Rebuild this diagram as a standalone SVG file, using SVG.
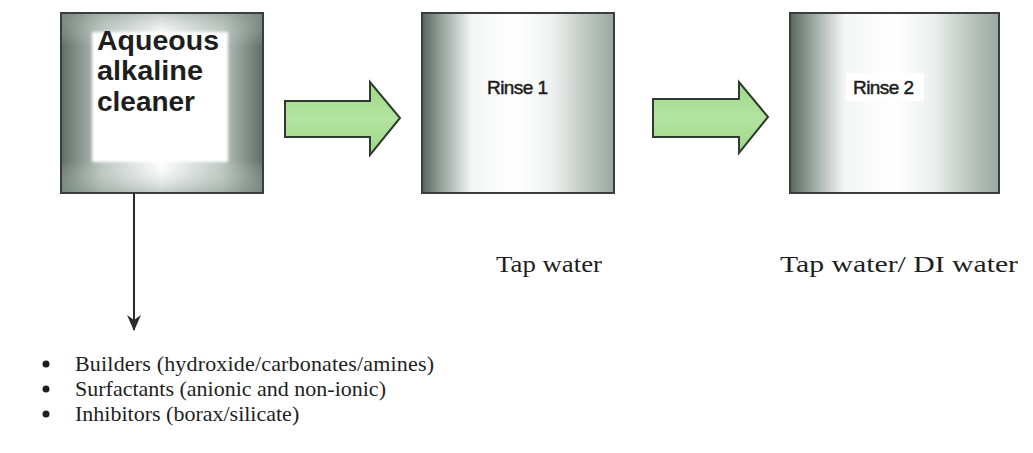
<svg xmlns="http://www.w3.org/2000/svg" width="1033" height="453" viewBox="0 0 1033 453">
  <defs>
    <!-- cleaner tank: dark sides, pale top/bottom, white core -->
    <linearGradient id="gTankH" x1="0" y1="0" x2="1" y2="0">
      <stop offset="0" stop-color="#5e6e67"/>
      <stop offset="0.2" stop-color="#b9c3be"/>
      <stop offset="0.5" stop-color="#ffffff"/>
      <stop offset="0.8" stop-color="#b9c3be"/>
      <stop offset="1" stop-color="#5e6e67"/>
    </linearGradient>
    <linearGradient id="gTankV" x1="0" y1="0" x2="0" y2="1">
      <stop offset="0" stop-color="#8a9a93" stop-opacity="0.5"/>
      <stop offset="0.18" stop-color="#ffffff" stop-opacity="0"/>
      <stop offset="0.82" stop-color="#ffffff" stop-opacity="0"/>
      <stop offset="1" stop-color="#8a9a93" stop-opacity="0.5"/>
    </linearGradient>
    <!-- rinse tanks: dark left, white middle, grey right -->
    <linearGradient id="gRinse" x1="0" y1="0" x2="1" y2="0">
      <stop offset="0" stop-color="#56665f"/>
      <stop offset="0.1" stop-color="#95a39d"/>
      <stop offset="0.26" stop-color="#f4f6f5"/>
      <stop offset="0.5" stop-color="#ffffff"/>
      <stop offset="0.68" stop-color="#eef1ef"/>
      <stop offset="0.86" stop-color="#bcc6c1"/>
      <stop offset="1" stop-color="#9aa7a1"/>
    </linearGradient>
    <linearGradient id="gArrow" x1="0" y1="0" x2="0" y2="1">
      <stop offset="0" stop-color="#9fd889"/>
      <stop offset="0.5" stop-color="#b3e3a0"/>
      <stop offset="1" stop-color="#9fd889"/>
    </linearGradient>
    <filter id="soft" x="-10%" y="-10%" width="120%" height="120%">
      <feGaussianBlur stdDeviation="1.5"/>
    </filter>
    <marker id="head" viewBox="0 0 16 14" refX="15" refY="7" markerWidth="16" markerHeight="14" markerUnits="userSpaceOnUse" orient="auto">
      <path d="M0,0 L5,7 L0,14 L16,7 Z" fill="#2a2a2a"/>
    </marker>
  </defs>
  <style>
    .tank { stroke: #3a3f3c; stroke-width: 2; }
    .flow { fill: url(#gArrow); stroke: #2f3b2f; stroke-width: 2; stroke-linejoin: miter; }
    .sans { font-family: "Liberation Sans", Arial, sans-serif; fill: #1e1e1e; }
    .serif { font-family: "Liberation Serif", "Times New Roman", serif; fill: #1e1e1e; }
    .big { font-size: 27px; font-weight: bold; }
    .rinse { font-size: 19px; stroke: #1e1e1e; stroke-width: 0.5; }
    .note { font-size: 24px; }
    .item { font-size: 22px; }
  </style>

  <rect width="1033" height="453" fill="#ffffff"/>

  <!-- Aqueous alkaline cleaner tank -->
  <g id="cleaner">
    <rect x="61" y="13" width="202" height="180" fill="url(#gTankH)"/>
    <rect x="61" y="13" width="202" height="180" fill="url(#gTankV)"/>
    <rect x="92" y="32" width="136" height="130" fill="#ffffff" filter="url(#soft)"/>
    <rect x="61" y="13" width="202" height="180" fill="none" class="tank"/>
    <text class="sans big" x="97" y="50" textLength="122" lengthAdjust="spacingAndGlyphs">Aqueous</text>
    <text class="sans big" x="97" y="80" textLength="106" lengthAdjust="spacingAndGlyphs">alkaline</text>
    <text class="sans big" x="97" y="111" textLength="98" lengthAdjust="spacingAndGlyphs">cleaner</text>
  </g>

  <!-- Rinse 1 tank -->
  <g id="rinse1">
    <rect x="422" y="13" width="192" height="180" fill="url(#gRinse)" class="tank"/>
    <text class="sans rinse" x="487" y="94" textLength="61">Rinse 1</text>
  </g>

  <!-- Rinse 2 tank -->
  <g id="rinse2">
    <rect x="790" y="13" width="209" height="180" fill="url(#gRinse)" class="tank"/>
    <rect x="846" y="73" width="78" height="28" fill="#ffffff"/>
    <text class="sans rinse" x="853" y="94" textLength="61">Rinse 2</text>
  </g>

  <!-- water supply labels -->
  <g id="tap-water">
    <text class="serif note" x="496" y="272" textLength="106" lengthAdjust="spacingAndGlyphs">Tap water</text>
  </g>
  <g id="tap-di-water">
    <text class="serif note" x="780" y="272" textLength="238" lengthAdjust="spacingAndGlyphs">Tap water/ DI water</text>
  </g>

  <!-- cleaner constituents -->
  <g id="constituents">
    <circle cx="46" cy="364" r="3.5" fill="#1e1e1e"/>
    <circle cx="46" cy="389" r="3.5" fill="#1e1e1e"/>
    <circle cx="46" cy="414" r="3.5" fill="#1e1e1e"/>
    <text class="serif item" x="75" y="371" textLength="359">Builders (hydroxide/carbonates/amines)</text>
    <text class="serif item" x="75" y="396">Surfactants (anionic and non-ionic)</text>
    <text class="serif item" x="75" y="421">Inhibitors (borax/silicate)</text>
  </g>

  <!-- connectors -->
  <g id="connectors">
    <path class="flow" d="M285,101 L370,101 L370,82 L400,118 L370,155 L370,137 L285,137 Z"/>
    <path class="flow" d="M653,99 L739,99 L739,82 L768,117 L739,153 L739,137 L653,137 Z"/>
    <line x1="134" y1="193" x2="134" y2="330" stroke="#2a2a2a" stroke-width="2" marker-end="url(#head)"/>
  </g>
</svg>
